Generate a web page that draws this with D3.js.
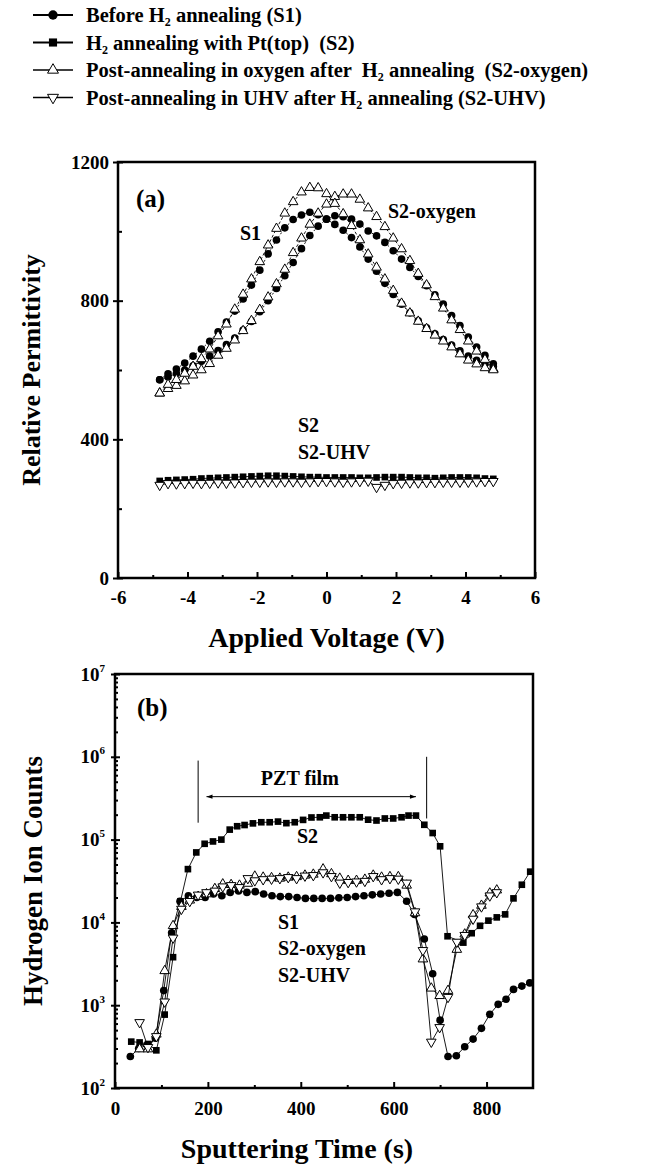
<!DOCTYPE html>
<html>
<head>
<meta charset="utf-8">
<script src="https://cdn.jsdelivr.net/npm/d3@7"></script>
<style>
  body { margin: 0; background: #fff; }
  text { font-family: "Liberation Serif", "DejaVu Serif", serif; font-weight: bold; fill: #000; white-space: pre; }
</style>
</head>
<body>
<svg id="chart" width="653" height="1166"></svg>
<script>
// ---- panel (a): permittivity vs voltage ----
const VOLTS = [-4.8,-4.56,-4.32,-4.08,-3.84,-3.6,-3.36,-3.12,-2.88,-2.64,-2.4,-2.16,-1.92,-1.68,-1.44,-1.2,-0.96,-0.72,-0.48,-0.24,
  0,0.24,0.48,0.72,0.96,1.2,1.44,1.68,1.92,2.16,2.4,2.64,2.88,3.12,3.36,3.6,3.84,4.08,4.32,4.56,4.8];
const S1_FWD = [572,580,590,600,612,625,640,656,673,692,715,740,768,800,835,872,910,950,988,1015,
  1035,1045,1042,1035,1021,1001,987,968,944,920,896,870,843,817,790,757,728,695,666,642,618];
const S1_REV = [572,589,603,620,640,660,683,710,738,770,805,845,888,935,975,1010,1034,1047,1055,1048,
  1035,1020,1003,982,955,920,885,850,818,790,765,742,722,704,688,672,655,640,628,618,610];
const OX_FWD = [533,546,555,568,585,600,618,642,662,686,713,742,774,810,848,890,938,980,1020,1052,
  1078,1100,1107,1107,1092,1067,1042,1013,980,949,915,878,845,811,778,744,716,683,654,630,603];
const OX_REV = [533,558,572,590,610,632,660,698,732,775,818,862,912,960,1008,1052,1085,1113,1126,1125,
  1108,1080,1050,1016,975,934,896,862,829,792,764,740,719,700,683,666,646,628,617,606,600];
const S2_PERM = [280,282,283,284,285,287,288,289,290,291,292,293,294,295,295,294,293,292,291,291,
  290,290,290,290,289,289,290,291,291,291,290,289,289,288,289,290,290,290,289,287,286];
const UHV_PERM = [268,273,272,273,274,273,274,275,274,275,276,277,277,278,277,278,278,277,278,279,
  279,278,277,278,279,280,262,268,273,274,275,275,276,276,277,277,277,277,278,279,279];

// ---- panel (b): hydrogen SIMS depth profile ----
const S1_TIME = [33,51,69,87,105,122,140,158,176,194,212,230,248,266,284,302,320,338,356,374,392,410,428,446,464,
  482,500,518,536,554,572,590,608,628,645,666,684,700,717,735,753,771,789,807,825,842,858,876,893];
const S1_COUNTS = [240,300,330,400,1500,7500,18000,21000,20000,20000,22000,21000,23000,24000,23000,23500,22000,21000,20500,20500,
  20000,19500,19500,19500,19500,19800,20000,20500,21000,21500,22000,22500,23000,18000,12500,6300,2400,660,240,245,
  315,390,525,775,1025,1180,1550,1700,1860];
const S2_TIME = [35,53,71,89,107,125,141,157,175,193,211,229,247,263,279,297,315,333,351,369,387,405,423,441,455,
  473,491,509,527,545,563,581,599,617,632,648,666,684,700,716,750,768,786,804,822,840,858,876,894];
const S2_COUNTS = [363,355,340,285,770,3800,18000,44000,70000,89000,95000,100000,132000,145000,150000,157000,162000,162000,165000,158000,
  162000,173000,185000,186000,195000,186000,186000,186000,186000,174000,170000,180000,180000,186000,195000,195000,151000,120000,83000,6800,
  5700,7400,9100,10500,11500,12500,19500,28500,41000];
const POST_TIME = [53,71,89,107,125,143,161,179,197,215,232,250,268,286,301,319,337,355,373,391,409,427,448,466,484,
  502,520,538,556,574,592,610,628,646,663,681,699,717,736,753,771,789,807,822];
const OX_COUNTS = [295,295,445,2600,9100,15500,18500,20500,22000,25500,29000,28500,28000,29500,36000,35000,34500,34000,35000,35500,
  37000,38000,44000,38500,34000,32000,32000,33000,37000,35000,35500,35500,28000,13000,3600,1600,1300,1500,4700,7200,
  12300,16000,22500,24500];
const UHV_COUNTS = [620,310,420,1100,6500,14500,18000,21500,23000,24000,27000,28000,26500,34000,32000,33000,33500,34000,35000,34000,
  36500,37000,40000,36000,30000,30500,31000,31500,36000,33000,34000,33500,30000,13500,4600,360,540,1250,5800,7000,
  11000,15500,21000,23000];

const LEGEND = [
  { kind: "circle", parts: ["Before H", "2", " annealing (S1)"] },
  { kind: "square", parts: ["H", "2", " annealing with Pt(top)  (S2)"] },
  { kind: "up", parts: ["Post-annealing in oxygen after  H", "2", " annealing  (S2-oxygen)"] },
  { kind: "down", parts: ["Post-annealing in UHV after H", "2", " annealing (S2-UHV)"] }
];

const svg = d3.select("#chart");

// marker shapes
function marker(sel, kind, scale) {
    const s = scale || 1;
    if (kind === "circle") {
        sel.append("path").attr("d", d3.symbol(d3.symbolCircle, 46 * s)());
    } else if (kind === "square") {
        sel.append("path").attr("d", d3.symbol(d3.symbolSquare, 44 * s)());
    } else {
        const p = sel.append("path")
            .attr("d", d3.symbol(d3.symbolTriangle, 40 * s)())
            .attr("fill", "#fff").attr("stroke", "#000").attr("stroke-width", 1);
        if (kind === "down") p.attr("transform", "rotate(180)");
    }
}

function drawSeries(g, xs, ys, x, y, kind, dash) {
    const pts = xs.map((v, i) => [x(v), y(ys[i])]);
    g.append("path")
        .attr("d", d3.line()(pts))
        .attr("fill", "none").attr("stroke", "#000").attr("stroke-width", 0.9)
        .attr("stroke-dasharray", dash || null);
    g.append("g").selectAll("g").data(pts).enter().append("g")
        .attr("transform", d => `translate(${d[0]},${d[1]})`)
        .each(function () { marker(d3.select(this), kind); });
}

// ---------------- legend ----------------
const leg = svg.append("g");
LEGEND.forEach((row, i) => {
    const yy = 15 + i * 27.5;
    const filled = row.kind === "circle" || row.kind === "square";
    leg.append("line").attr("x1", 33).attr("x2", 73).attr("y1", yy).attr("y2", yy)
        .attr("stroke", "#000").attr("stroke-width", filled ? 2 : 1.3);
    marker(leg.append("g").attr("transform", `translate(53,${yy})`), row.kind, filled ? 1.5 : 1.3);
    const t = leg.append("text").attr("x", 86).attr("y", yy + 7).attr("font-size", 20.5);
    t.append("tspan").text(row.parts[0]);
    t.append("tspan").attr("font-size", 12).attr("dy", 4).text(row.parts[1]);
    t.append("tspan").attr("dy", -4).text(row.parts[2]);
});

// ---------------- panel (a) ----------------
const A = { left: 118, right: 535, top: 162, bottom: 578 };
const xA = d3.scaleLinear().domain([-6, 6]).range([A.left, A.right]);
const yA = d3.scaleLinear().domain([0, 1200]).range([A.bottom, A.top]);

const gA = svg.append("g");
gA.append("g").attr("transform", `translate(0,${A.bottom})`)
    .call(d3.axisBottom(xA).tickValues([-6, -4, -2, 0, 2, 4, 6]).tickSizeInner(-6).tickSizeOuter(0)
        .tickPadding(13).tickFormat(d => String(d)))
    .call(g => g.select(".domain").remove())
    .call(g => g.selectAll("text").attr("font-size", 19).attr("font-family", null));
gA.append("g").attr("transform", `translate(0,${A.bottom})`)
    .call(d3.axisBottom(xA).tickValues([-5, -3, -1, 1, 3, 5]).tickSizeInner(-3).tickSizeOuter(0).tickFormat(""))
    .call(g => g.select(".domain").remove());
gA.append("g").attr("transform", `translate(${A.left},0)`)
    .call(d3.axisLeft(yA).tickValues([0, 400, 800, 1200]).tickSizeInner(5).tickSizeOuter(0).tickPadding(4)
        .tickFormat(d => String(d)))
    .call(g => g.select(".domain").remove())
    .call(g => g.selectAll("text").attr("font-size", 19).attr("font-family", null));
gA.append("g").attr("transform", `translate(${A.left},0)`)
    .call(d3.axisLeft(yA).tickValues([0, 400, 800, 1200]).tickSizeInner(-5).tickSizeOuter(0).tickFormat(""))
    .call(g => g.select(".domain").remove());
gA.append("g").attr("transform", `translate(${A.left},0)`)
    .call(d3.axisLeft(yA).tickValues([200, 600, 1000]).tickSizeInner(-4).tickSizeOuter(0).tickFormat(""))
    .call(g => g.select(".domain").remove());
gA.selectAll(".tick line").attr("stroke-width", 2);
gA.append("rect").attr("x", A.left).attr("y", A.top)
    .attr("width", A.right - A.left).attr("height", A.bottom - A.top)
    .attr("fill", "none").attr("stroke", "#000").attr("stroke-width", 2.5);

const plotA = gA.append("g");
drawSeries(plotA, VOLTS, S2_PERM, xA, yA, "square");
drawSeries(plotA, VOLTS, UHV_PERM, xA, yA, "down");
drawSeries(plotA, VOLTS, S1_FWD, xA, yA, "circle", "2,2");
drawSeries(plotA, VOLTS, S1_REV, xA, yA, "circle", "2,2");
drawSeries(plotA, VOLTS, OX_FWD, xA, yA, "up", "3,2");
drawSeries(plotA, VOLTS, OX_REV, xA, yA, "up", "3,2");

gA.append("text").attr("x", 136).attr("y", 207).attr("font-size", 25).text("(a)");
gA.append("text").attr("x", 240).attr("y", 240).attr("font-size", 20).text("S1");
gA.append("text").attr("x", 388).attr("y", 218).attr("font-size", 20).text("S2-oxygen");
gA.append("text").attr("x", 298).attr("y", 432).attr("font-size", 20).text("S2");
gA.append("text").attr("x", 298).attr("y", 459).attr("font-size", 20).text("S2-UHV");

gA.append("text").attr("x", (A.left + A.right) / 2).attr("y", 647).attr("font-size", 28)
    .attr("text-anchor", "middle").text("Applied Voltage (V)");
gA.append("text").attr("transform", `translate(40,${(A.top + A.bottom) / 2}) rotate(-90)`)
    .attr("font-size", 26).attr("text-anchor", "middle").text("Relative Permittivity");

// ---------------- panel (b) ----------------
const B = { left: 115, right: 533, top: 674, bottom: 1088 };
const xB = d3.scaleLinear().domain([0, 900]).range([B.left, B.right]);
const yB = d3.scaleLog().domain([1e2, 1e7]).range([B.bottom, B.top]);
const decades = [1e2, 1e3, 1e4, 1e5, 1e6, 1e7];

const gB = svg.append("g");
gB.append("g").attr("transform", `translate(0,${B.bottom})`)
    .call(d3.axisBottom(xB).tickValues([0, 200, 400, 600, 800]).tickSizeInner(-6).tickSizeOuter(0)
        .tickPadding(14).tickFormat(d => String(d)))
    .call(g => g.select(".domain").remove())
    .call(g => g.selectAll("text").attr("font-size", 19).attr("font-family", null));
gB.append("g").attr("transform", `translate(0,${B.bottom})`)
    .call(d3.axisBottom(xB).tickValues([100, 300, 500, 700]).tickSizeInner(-3).tickSizeOuter(0).tickFormat(""))
    .call(g => g.select(".domain").remove());
gB.append("g").attr("transform", `translate(${B.left},0)`)
    .call(d3.axisLeft(yB).tickValues(decades).tickSizeInner(4).tickSizeOuter(0).tickPadding(6).tickFormat(""))
    .call(g => g.select(".domain").remove())
    .call(g => g.selectAll(".tick text").each(function (d) {
        const t = d3.select(this).attr("font-size", 19).attr("font-family", null);
        t.append("tspan").text("10");
        t.append("tspan").attr("font-size", 11).attr("dy", -9).text(Math.round(Math.log10(d)));
    }));
gB.append("g").attr("transform", `translate(${B.left},0)`)
    .call(d3.axisLeft(yB).tickValues(decades).tickSizeInner(-5).tickSizeOuter(0).tickFormat(""))
    .call(g => g.select(".domain").remove());
gB.append("g").attr("transform", `translate(${B.left},0)`)
    .call(d3.axisLeft(yB).tickValues(yB.ticks().filter(v => !decades.includes(v))).tickSizeInner(-3).tickSizeOuter(0).tickFormat(""))
    .call(g => g.select(".domain").remove());
gB.selectAll(".tick line").attr("stroke-width", 2);
gB.append("rect").attr("x", B.left).attr("y", B.top)
    .attr("width", B.right - B.left).attr("height", B.bottom - B.top)
    .attr("fill", "none").attr("stroke", "#000").attr("stroke-width", 2.5);

const plotB = gB.append("g");
drawSeries(plotB, S2_TIME, S2_COUNTS, xB, yB, "square");
drawSeries(plotB, S1_TIME, S1_COUNTS, xB, yB, "circle");
drawSeries(plotB, POST_TIME, OX_COUNTS, xB, yB, "up");
drawSeries(plotB, POST_TIME, UHV_COUNTS, xB, yB, "down");

// PZT film region marker
const defs = svg.append("defs");
defs.append("marker").attr("id", "ah").attr("viewBox", "0 0 10 10").attr("refX", 10).attr("refY", 5)
    .attr("markerWidth", 9).attr("markerHeight", 6).attr("orient", "auto-start-reverse")
    .append("path").attr("d", "M0,1.5 L10,5 L0,8.5 Z").attr("fill", "#000");
gB.append("line").attr("x1", xB(179)).attr("x2", xB(179)).attr("y1", yB(9e5)).attr("y2", yB(1.6e5))
    .attr("stroke", "#000").attr("stroke-width", 1);
gB.append("line").attr("x1", xB(671)).attr("x2", xB(671)).attr("y1", yB(1e6)).attr("y2", yB(1.8e5))
    .attr("stroke", "#000").attr("stroke-width", 1);
gB.append("line").attr("x1", xB(197)).attr("x2", xB(648)).attr("y1", yB(3.3e5)).attr("y2", yB(3.3e5))
    .attr("stroke", "#000").attr("stroke-width", 1)
    .attr("marker-start", "url(#ah)").attr("marker-end", "url(#ah)");
gB.append("text").attr("x", xB(398)).attr("y", yB(4.6e5)).attr("font-size", 20)
    .attr("text-anchor", "middle").text("PZT film");

gB.append("text").attr("x", 137).attr("y", 716).attr("font-size", 25).text("(b)");
gB.append("text").attr("x", 297).attr("y", 843).attr("font-size", 20).text("S2");
gB.append("text").attr("x", 278).attr("y", 929).attr("font-size", 20).text("S1");
gB.append("text").attr("x", 278).attr("y", 955).attr("font-size", 20).text("S2-oxygen");
gB.append("text").attr("x", 278).attr("y", 982).attr("font-size", 20).text("S2-UHV");

gB.append("text").attr("x", 297).attr("y", 1158).attr("font-size", 28)
    .attr("text-anchor", "middle").text("Sputtering Time (s)");
gB.append("text").attr("transform", `translate(42,${(B.top + B.bottom) / 2}) rotate(-90)`)
    .attr("font-size", 27).attr("text-anchor", "middle").text("Hydrogen Ion Counts");
</script>
</body>
</html>
